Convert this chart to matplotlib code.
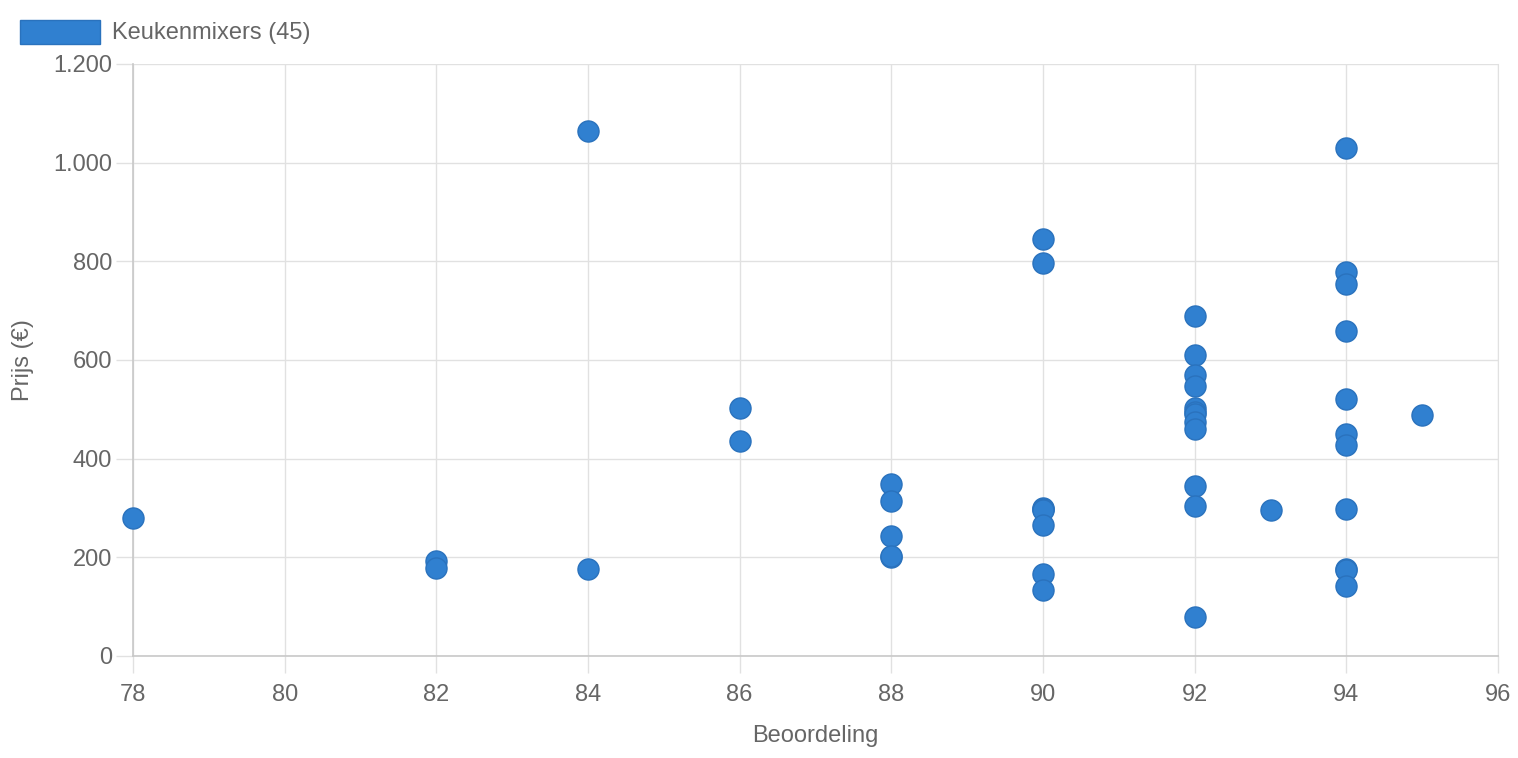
import matplotlib.pyplot as plt
from matplotlib.patches import Rectangle
from matplotlib.ticker import FuncFormatter

plt.rcParams['font.family'] = ['Liberation Sans', 'DejaVu Sans']

# Beoordeling (score) and prijs (price in euro) per mixer
scores = [78,
          82, 82,
          84, 84,
          86, 86,
          88, 88, 88, 88, 88,
          90, 90, 90, 90, 90, 90, 90, 90,
          92, 92, 92, 92, 92, 92, 92, 92, 92, 92, 92, 92,
          93,
          94, 94, 94, 94, 94, 94, 94, 94, 94, 94, 94,
          95]
prices = [280,
          193, 178,
          1064, 176,
          503, 436,
          349, 315, 243, 200, 202,
          845, 796, 301, 298, 295, 265, 166, 134,
          689, 610, 570, 547, 502, 495, 490, 475, 460, 345, 305, 80,
          296,
          1030, 778, 754, 659, 520, 450, 428, 298, 176, 175, 142,
          489]

series_label = "Keukenmixers (45)"
blue = "#3080d0"
text_grey = "#666666"
grid_grey = "#e1e1e1"

W, H = 1518, 758
fig = plt.figure(figsize=(W / 100, H / 100), dpi=100)
ax = fig.add_axes([133 / W, 1 - 656 / H, (1498 - 133) / W, (656 - 64) / H])

ax.scatter(scores, prices, s=230, color=blue, edgecolors="#2a72bd",
           linewidths=1, zorder=3, clip_on=False)

ax.set_xlim(78, 96)
ax.set_ylim(0, 1200)
ax.set_xticks(range(78, 97, 2))
ax.set_yticks(range(0, 1201, 200))
ax.yaxis.set_major_formatter(
    FuncFormatter(lambda v, _: f"{int(v):,}".replace(",", ".")))

ax.grid(True, color=grid_grey, linewidth=1)
ax.set_axisbelow(True)
ax.spines["top"].set_visible(False)
ax.spines["right"].set_color(grid_grey)
for side in ["left", "bottom"]:
    ax.spines[side].set_color("#c8c8c8")
    ax.spines[side].set_linewidth(1.2)

ax.tick_params(axis="both", colors=grid_grey, labelcolor=text_grey,
               labelsize=17, length=12, width=1)
ax.tick_params(axis="x", pad=8)
ax.tick_params(axis="y", pad=3)

ax.set_xlabel("Beoordeling", color=text_grey, fontsize=17, labelpad=14)
ax.set_ylabel("Prijs (€)", color=text_grey, fontsize=17, labelpad=14)

# legend box drawn by hand, top left like the original
fig.patches.append(Rectangle((20 / W, 1 - 44 / H), 80 / W, 24 / H,
                             transform=fig.transFigure, facecolor=blue,
                             edgecolor="#2a72bd", linewidth=1))
fig.text(112 / W, 1 - 33 / H, series_label, color=text_grey,
         fontsize=17, va="center", ha="left")

fig.savefig("out.png", dpi=100)
